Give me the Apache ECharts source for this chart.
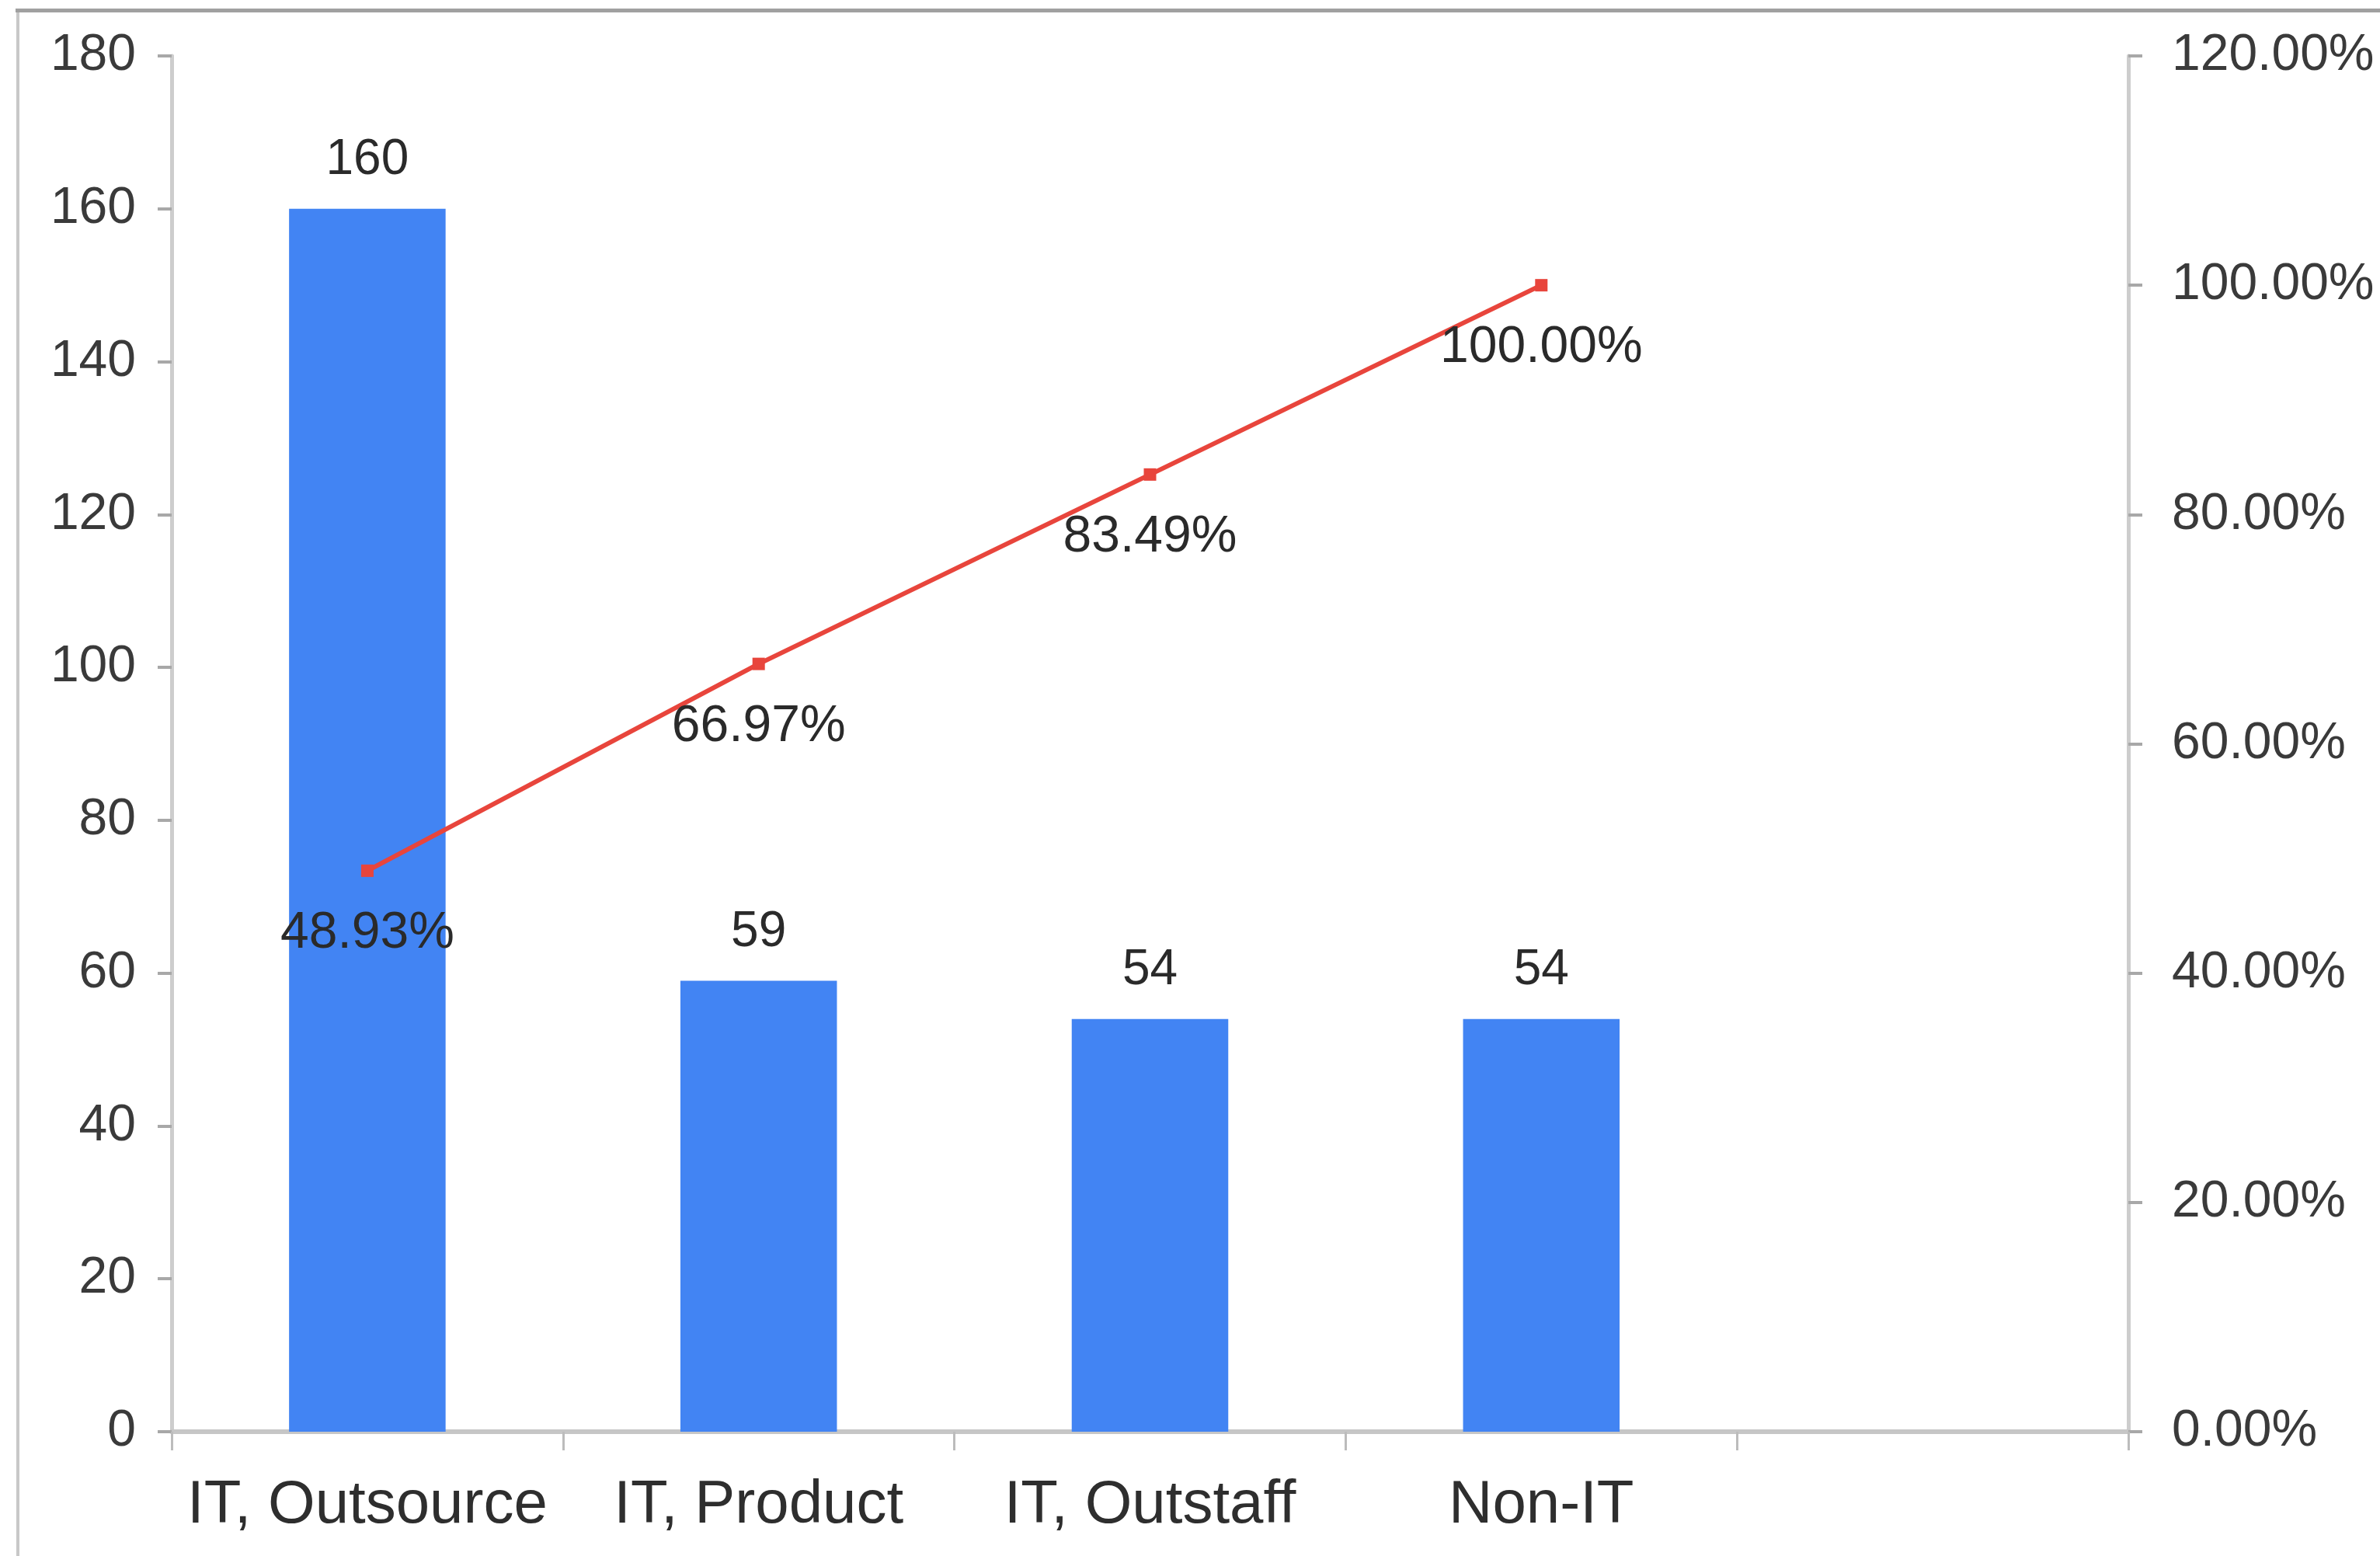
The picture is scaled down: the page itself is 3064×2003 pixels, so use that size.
<!DOCTYPE html>
<html>
<head>
<meta charset="utf-8">
<script src="https://cdn.jsdelivr.net/npm/echarts@6/dist/echarts.min.js"></script>
<style>
html,body{margin:0;padding:0;background:#fff;}
#chart{width:3064px;height:2003px;}
</style>
</head>
<body>
<div id="chart"></div>
<script>
const categories = ['IT, Outsource', 'IT, Product', 'IT, Outstaff', 'Non-IT', ''];
const counts = [160, 59, 54, 54, null];
const cumulativePct = [48.93, 66.97, 83.49, 100.00, null];
const leftTicks = { min: 0, max: 180, interval: 20 };
const rightTicks = { min: 0, max: 120, interval: 20 };

const FONT = 'Liberation Sans, Arial, sans-serif';
const chart = echarts.init(document.getElementById('chart'), null, { renderer: 'canvas' });

chart.setOption({
  backgroundColor: '#ffffff',
  animation: false,
  graphic: [
    { type: 'rect', shape: { x: 20, y: 11, width: 3044, height: 5 }, style: { fill: '#a0a0a0' } },
    { type: 'rect', shape: { x: 21, y: 16, width: 4, height: 1987 }, style: { fill: '#c8c8c8' } }
  ],
  grid: { left: 221, right: 324, top: 72, bottom: 160, containLabel: false },
  xAxis: {
    type: 'category',
    data: categories,
    boundaryGap: true,
    axisLine: { show: true, lineStyle: { color: '#c6c6c6', width: 6 } },
    axisTick: { show: true, length: 24, lineStyle: { color: '#bcbcbc', width: 3 } },
    axisLabel: { color: '#2e2e2e', fontSize: 78, fontFamily: FONT, margin: 56, interval: 0 },
    splitLine: { show: false }
  },
  yAxis: [
    {
      type: 'value',
      min: leftTicks.min, max: leftTicks.max, interval: leftTicks.interval,
      position: 'left',
      axisLine: { show: true, lineStyle: { color: '#cdcdcd', width: 5 } },
      axisTick: { show: true, length: 18, lineStyle: { color: '#a8a8a8', width: 4 } },
      axisLabel: { color: '#3a3a3a', fontSize: 66, fontFamily: FONT, margin: 46 },
      splitLine: { show: false }
    },
    {
      type: 'value',
      min: rightTicks.min, max: rightTicks.max, interval: rightTicks.interval,
      position: 'right',
      axisLine: { show: true, lineStyle: { color: '#cdcdcd', width: 5 } },
      axisTick: { show: true, length: 18, lineStyle: { color: '#a8a8a8', width: 4 } },
      axisLabel: {
        color: '#3a3a3a', fontSize: 66, fontFamily: FONT, margin: 56,
        formatter: v => v.toFixed(2) + '%'
      },
      splitLine: { show: false }
    }
  ],
  series: [
    {
      type: 'bar',
      yAxisIndex: 0,
      data: counts,
      barWidth: '40%',
      itemStyle: { color: '#4284f3' },
      label: {
        show: true, position: 'top', distance: 30,
        color: '#2a2a2a', fontSize: 64, fontFamily: FONT
      }
    },
    {
      type: 'line',
      yAxisIndex: 1,
      data: cumulativePct,
      symbol: 'rect',
      symbolSize: 16,
      lineStyle: { color: '#e8453c', width: 6 },
      itemStyle: { color: '#e8453c' },
      label: {
        show: true, position: 'bottom', distance: 40,
        color: '#2a2a2a', fontSize: 66, fontFamily: FONT,
        formatter: p => p.value.toFixed(2) + '%'
      },
      z: 5
    }
  ]
});
</script>
</body>
</html>
